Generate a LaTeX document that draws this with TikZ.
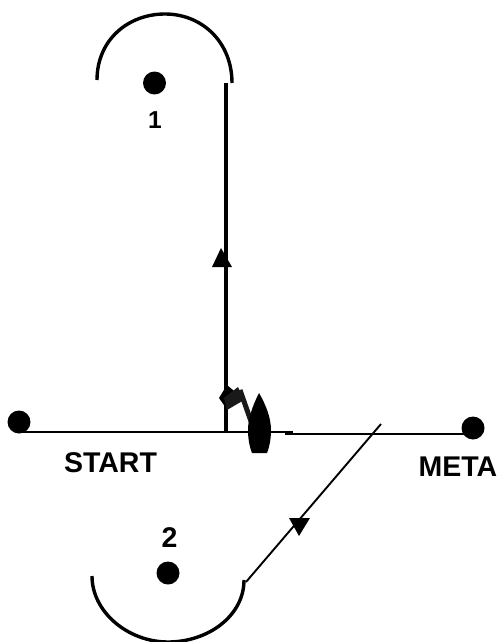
\documentclass[tikz,border=0pt]{standalone}
\usepackage{fontspec}
\setmainfont{Liberation Sans}
\tikzset{
  dotmark/.style={circle,fill=black,inner sep=0pt,minimum size=23pt},
  lbl/.style={font=\bfseries\fontsize{28.5}{32}\selectfont,inner sep=0pt},
  arcline/.style={line width=3.4pt},
  course/.style={line width=2.8pt},
  up course/.style={line width=3.6pt},
  thin course/.style={line width=1.9pt},
  head/.style={fill=black,draw=none}
}
\begin{document}
\begin{tikzpicture}[x=1pt,y=-1pt]
\useasboundingbox (0,0) rectangle (501,642);
% marks
\node[dotmark] (m1) at (154.5,83) {};
\node[dotmark] (m2) at (168,573) {};
\node[dotmark] (s) at (19,422) {};
\node[dotmark] (m) at (473,428) {};
% labels
\node[lbl,font=\bfseries\fontsize{24.5}{28}\selectfont] (t1) at (155,120) {1};
\node[lbl] (t2) at (169.5,538) {2};
\node[lbl] (tstart) at (110.5,462.5) {START};
\node[lbl] (tmeta) at (458,466.5) {META};
% arcs
\draw[arcline] (97,80) .. controls (97,40) and (128,14) .. (165,14) .. controls (202,14) and (232,42) .. (232,83);
\begin{scope}
\clip (0,0) rectangle (501,642);
\draw[arcline] (92,576) .. controls (92,612) and (128,642) .. (168,642) .. controls (208,642) and (244,616) .. (244,580);
\end{scope}
% course
\coordinate (a) at (226,83);
\coordinate (b) at (226,433);
\coordinate (c) at (293,432);
\coordinate (d) at (285,434);
\coordinate (e) at (381,424);
\coordinate (f) at (246,582);
\coordinate (sl) at (20,432);
\coordinate (ml) at (470,434);
\draw[course] (sl) -- (c);
\draw[course] (d) -- (ml);
\draw[up course] (a) -- (b);
\draw[thin course] (e) -- (f);
% arrowheads
\fill[head] (221,248) -- (232,267) -- (212,267) -- cycle;
\fill[head] (289,518) -- (310,518) -- (299,536) -- cycle;
% boat
\fill[black] (227,385) -- (240,396) -- (226,408) -- (219,398) -- cycle;
\fill[black!90] (238,387) -- (244,400) -- (227,410) -- (224,398) -- cycle;
\draw[black!90,line width=5pt] (240,390) -- (253,427);
\fill[black] (259,393) .. controls (266,405) and (271,418) .. (271,430) .. controls (271,440) and (269,448) .. (267,453) -- (252,453) .. controls (250,448) and (248,440) .. (248,430) .. controls (248,418) and (253,405) .. (259,393) -- cycle;
\end{tikzpicture}
\end{document}
